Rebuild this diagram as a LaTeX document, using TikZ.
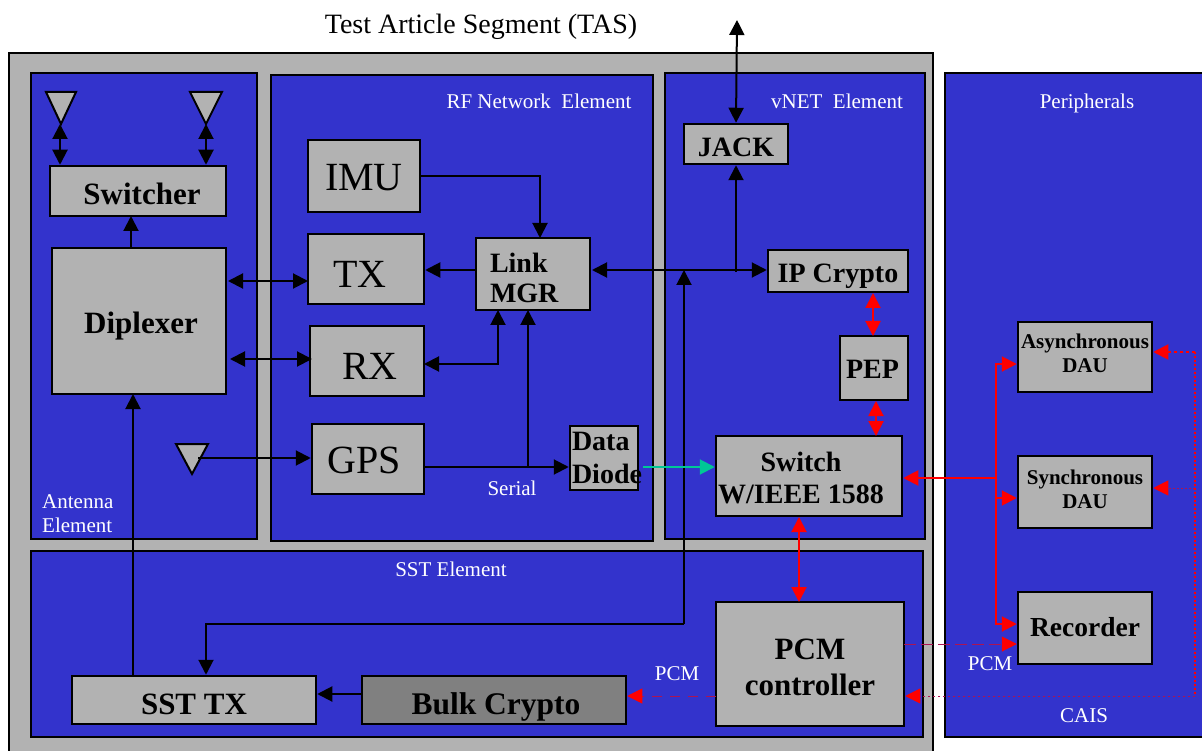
\documentclass[tikz,border=0pt]{standalone}
\usepackage{fontspec}
\setmainfont{Liberation Serif}
\usetikzlibrary{arrows.meta}
\definecolor{panelblue}{RGB}{51,51,204}
\definecolor{boxgray}{RGB}{178,178,178}
\definecolor{darkgray}{RGB}{128,128,128}
\definecolor{diodegreen}{RGB}{0,200,150}
\tikzset{
  panel/.style={draw=black,line width=2pt,fill=panelblue,anchor=north west,inner sep=0pt},
  box/.style={draw=black,line width=2.5pt,fill=boxgray,inner sep=0pt,align=center,text depth=0pt,font=\fontsize{#1}{#1}\selectfont\bfseries},
  box/.default=31,
  plainbox/.style={box,font=\fontsize{40}{40}\selectfont},
  sink/.style={execute at begin node={\rule{0pt}{#1pt}}},
  antenna/.style={draw=black,line width=2pt,fill=boxgray},
  tag/.style={text=white,font=\fontsize{21}{24}\selectfont,inner sep=0pt,align=left},
  blk/.style={line width=2pt,<->},
  blkto/.style={line width=2pt,->},
  redline/.style={red,line width=2pt},
  faintline/.style={draw=red!60!panelblue,line width=1pt,-{Triangle[length=15pt,width=15pt,red]}},
}
\begin{document}
\begin{tikzpicture}[x=1pt,y=-1pt,>={Triangle[length=15pt,width=15pt]}]
  \clip (0,0) rectangle (1202,751);
  \fill[white] (0,0) rectangle (1202,751);
  % panels
  \node[panel,fill=boxgray,minimum width=924pt,minimum height=720pt] (tas) at (8,52) {};
  \node[panel,minimum width=226pt,minimum height=466pt] (antel) at (30,72) {};
  \node[panel,minimum width=382pt,minimum height=466pt] (rfel) at (270,74) {};
  \node[panel,minimum width=260pt,minimum height=466pt] (vnetel) at (664,72) {};
  \node[panel,minimum width=892pt,minimum height=186pt] (sstel) at (30,550) {};
  \node[panel,minimum width=280pt,minimum height=664pt] (periph) at (944,72) {};
  % boxes
  \node[box,sink=28,minimum width=176pt,minimum height=50pt] (switcher) at (138,191) {\hspace*{8pt}Switcher};
  \node[box,sink=25,minimum width=174pt,minimum height=146pt] (diplexer) at (139,321) {\hspace*{4pt}Diplexer};
  \node[plainbox,sink=30,minimum width=112pt,minimum height=72pt] (imu) at (364,176) {IMU};
  \node[plainbox,sink=36.5,minimum width=116pt,minimum height=70pt] (tx) at (366,269) {TX\hspace*{12pt}};
  \node[plainbox,sink=36.5,minimum width=114pt,minimum height=70pt] (rx) at (367,361) {\hspace*{6pt}RX};
  \node[plainbox,sink=28.5,minimum width=112pt,minimum height=70pt] (gps) at (368,459) {GPS\hspace*{8pt}};
  \node[box=28,text depth=22pt,minimum width=114pt,minimum height=72pt,align=left,text width=86pt] (link) at (533,274) {Link\\[2pt]MGR};
  \node[box=28,text depth=34pt,minimum width=68pt,minimum height=64pt,align=left,text width=64pt] (diode) at (604,458) {Data\\[5pt]Diode};
  \node[box=28,sink=25,minimum width=104pt,minimum height=40pt] (jack) at (736,144) {JACK};
  \node[box=28,sink=23,minimum width=140pt,minimum height=42pt] (ipcrypto) at (838,271) {IP Crypto};
  \node[box=28,sink=21,minimum width=68pt,minimum height=64pt] (pep) at (874,368) {PEP\hspace*{3pt}};
  \node[box=28,minimum width=186pt,minimum height=80pt] (switch) at (809,476) {\rule{0pt}{23pt}Switch\hspace*{16pt}\\[4pt]W/IEEE 1588\hspace*{16pt}};
  \node[box=21,text depth=8pt,minimum width=134pt,minimum height=70pt] (async) at (1085,357) {Asynchronous\\[3pt]DAU};
  \node[box=21,text depth=6pt,minimum width=134pt,minimum height=72pt] (sync) at (1085,492) {Synchronous\\[3pt]DAU};
  \node[box=27.5,text depth=2pt,minimum width=134pt,minimum height=72pt] (recorder) at (1085,628) {Recorder};
  \node[box,minimum width=188pt,minimum height=124pt] (pcm) at (810,664) {\rule{0pt}{27pt}PCM\\[5pt]controller};
  \node[box,sink=28,minimum width=244pt,minimum height=48pt] (ssttx) at (194,700) {SST TX};
  \node[box=31.5,sink=29,fill=darkgray,minimum width=264pt,minimum height=48pt] (bulk) at (494,700) {\hspace*{4pt}Bulk Crypto};
  % antennas
  \draw[antenna] (46,92) -- (76,92) -- (61,124) -- cycle;
  \draw[antenna] (190,92) -- (222,92) -- (206,124) -- cycle;
  \draw[antenna] (176,444) -- (208,444) -- (192,474) -- cycle;
  \coordinate (anta) at (60,124);
  \coordinate (antb) at (206,124);
  \coordinate (antc) at (198,458);
  \coordinate (topend) at (737,20);
  \coordinate (linkw) at (476,270);
  \coordinate (linke) at (592,270);
  \coordinate (linkn) at (540,238);
  \coordinate (links) at (498,310);
  \coordinate (linkb) at (528,310);
  \coordinate (rxe) at (424,364);
  \coordinate (rxbend) at (498,364);
  \coordinate (gpse) at (424,467);
  \coordinate (gpsbr) at (528,467);
  \coordinate (iptap) at (736,272);
  \coordinate (stdrop) at (206,624);
  \coordinate (stup) at (684,624);
  \coordinate (sttop) at (684,270);
  \coordinate (diodee) at (643,467);
  \coordinate (tapa) at (996,478);
  % black connectors
  \draw[blk] (anta) -- (anta |- switcher.north);
  \draw[blk] (antb) -- (antb |- switcher.north);
  \draw[blkto] (131,248) -- (131,216);
  \draw[blk] (228,281) -- (308,281);
  \draw[blk] (230,359) -- (312,359);
  \draw[blkto] (imu.east) -| (linkn);
  \draw[blkto] (linkw) -- (linkw -| tx.east);
  \draw[blk] (rxe) -- (rxbend) -- (links);
  \draw[blkto] (antc) -- (antc -| gps.west);
  \draw[blkto] (gpse) -- (gpse -| diode.west);
  \draw[blkto] (gpsbr) -- (linkb);
  \draw[blk] (linke) -- (linke -| ipcrypto.west);
  \draw[blkto] (iptap) -- (iptap |- jack.south);
  \draw[blk] (jack.north) -- (topend);
  \draw[blkto] (stup) -- (sttop);
  \draw[blkto] (stup) -- (stdrop) -- (stdrop |- ssttx.north);
  \draw[blkto] (133,676) -- (133,394);
  \draw[blkto] (bulk.west |- 0,694) -- (ssttx.east |- 0,694);
  % red connectors
  \draw[diodegreen,line width=2pt,->] (diodee) -- (diodee -| switch.west);
  \draw[redline,<->] (873,293) -- (873,336);
  \draw[redline,<->] (876,401) -- (876,436);
  \draw[redline,<->] (799,517) -- (799,602);
  \draw[redline,->] (tapa) -- (tapa -| switch.east);
  \draw[redline,->] (996,478) -- (996,364) -- (async.west |- 0,364);
  \draw[redline,->] (996,478) -- (996,498) -- (sync.west |- 0,498);
  \draw[redline,->] (996,498) -- (996,624) -- (recorder.west |- 0,624);
  \draw[faintline,dash pattern=on 12pt off 5pt] (904,644) -- (recorder.west |- 0,644);
  \draw[faintline,dash pattern=on 10pt off 8pt] (716,696) -- (bulk.east |- 0,696);
  \draw[redline,dash pattern=on 3pt off 3pt,->] (1195,352) -- (async.east |- 0,352);
  \draw[faintline,dash pattern=on 2pt off 2pt] (1195,488) -- (sync.east |- 0,488);
  \draw[redline,line width=1.5pt,dash pattern=on 2pt off 2pt] (1195,352) -- (1195,696);
  \draw[faintline,dash pattern=on 2pt off 3pt] (1195,696) -- (pcm.east |- 0,696);
  % labels
  \node[inner sep=0pt,font=\fontsize{28}{28}\selectfont] (title) at (481,27) {Test Article Segment (TAS)};
  \node[tag] (rflabel) at (539,101) {RF Network\ \ Element};
  \node[tag] (vnetlabel) at (837,101) {vNET\ \ Element};
  \node[tag] (periphlabel) at (1087,103) {Peripherals};
  \node[tag,anchor=north west] (antlabel) at (42,494) {Antenna\\Element};
  \node[tag] (sstlabel) at (451,569) {SST Element};
  \node[tag] (caislabel) at (1084,716) {CAIS};
  \node[tag] (seriallabel) at (512,488) {Serial};
  \node[tag] (pcmlabela) at (677,674) {PCM};
  \node[tag] (pcmlabelb) at (990,664) {PCM};
\end{tikzpicture}
\end{document}
